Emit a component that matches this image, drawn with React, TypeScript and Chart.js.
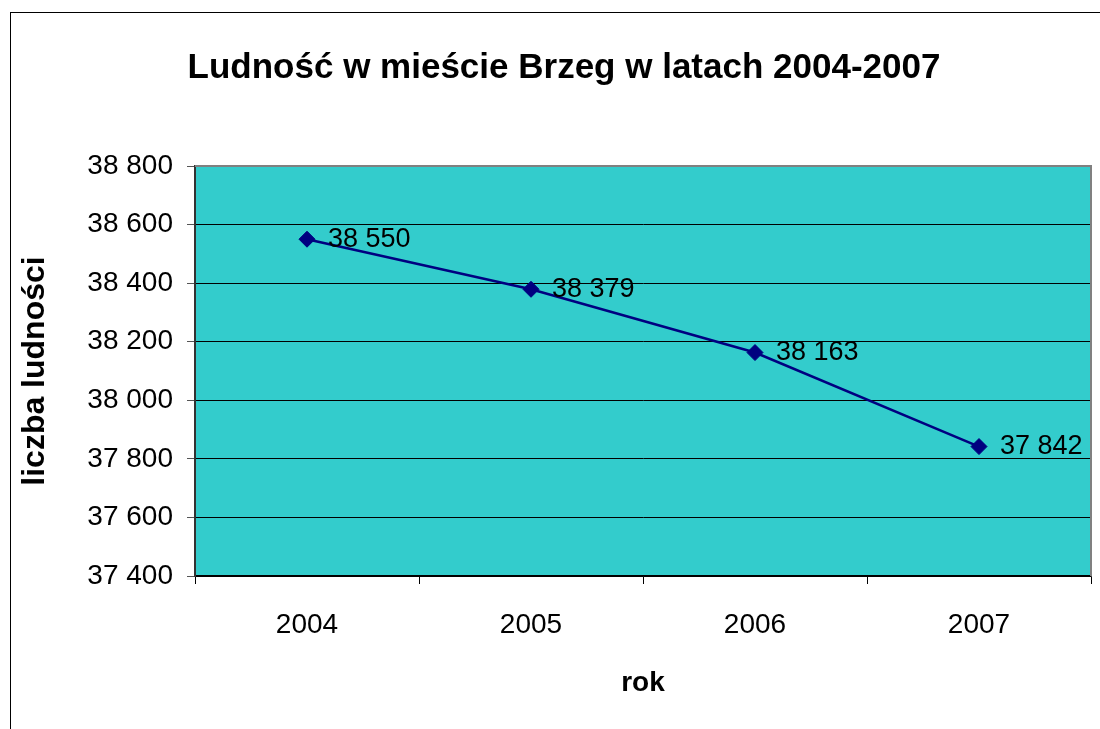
import { useEffect, useRef } from "react";
import { Chart, registerables } from "chart.js";

Chart.register(...registerables);

const YEARS = ["2004", "2005", "2006", "2007"];
const POPULATION = [38550, 38379, 38163, 37842];
const Y_MIN = 37400;
const Y_MAX = 38800;
const Y_STEP = 200;
const TITLE = "Ludność w mieście Brzeg w latach 2004-2007";
const Y_TITLE = "liczba ludności";
const X_TITLE = "rok";

const FONT = "'Liberation Sans', Arial, Helvetica, sans-serif";

const fmt = (v: number) =>
  String(Math.round(v)).replace(/\B(?=(\d{3})+(?!\d))/g, " ");

const plotBackground = {
  id: "plotBackground",
  beforeDraw(chart: any) {
    const { ctx, chartArea: a } = chart;
    ctx.save();
    ctx.fillStyle = "#33CCCC";
    ctx.fillRect(a.left, a.top, a.right - a.left, a.bottom - a.top);
    ctx.restore();
  },
};

const plotBorder = {
  id: "plotBorder",
  beforeDatasetsDraw(chart: any) {
    const { ctx, chartArea: a } = chart;
    ctx.save();
    ctx.strokeStyle = "#808080";
    ctx.lineWidth = 2;
    ctx.beginPath();
    ctx.moveTo(a.left, a.top);
    ctx.lineTo(a.right, a.top);
    ctx.lineTo(a.right, a.bottom);
    ctx.stroke();
    ctx.restore();
  },
};

const valueLabels = {
  id: "valueLabels",
  afterDatasetsDraw(chart: any) {
    const { ctx } = chart;
    const meta = chart.getDatasetMeta(0);
    const data = chart.data.datasets[0].data as number[];
    ctx.save();
    ctx.font = `27px ${FONT}`;
    ctx.fillStyle = "#000";
    ctx.textAlign = "left";
    ctx.textBaseline = "middle";
    meta.data.forEach((pt: any, i: number) => {
      ctx.fillText(fmt(data[i]), pt.x + 21, pt.y);
    });
    ctx.restore();
  },
};

const mainTitle = {
  id: "mainTitle",
  afterDraw(chart: any) {
    const { ctx } = chart;
    ctx.save();
    ctx.font = `bold 35px ${FONT}`;
    ctx.fillStyle = "#000";
    ctx.textAlign = "center";
    ctx.textBaseline = "alphabetic";
    ctx.fillText(TITLE, 564, 78);
    ctx.restore();
  },
};

export default function App() {
  const ref = useRef<HTMLCanvasElement | null>(null);

  useEffect(() => {
    if (!ref.current) return;
    const chart = new Chart(ref.current, {
      type: "line",
      data: {
        labels: YEARS,
        datasets: [
          {
            data: POPULATION,
            borderColor: "#000080",
            backgroundColor: "#000080",
            borderWidth: 2.5,
            pointStyle: "rectRot",
            pointRadius: 8,
            pointBorderWidth: 1,
            pointBackgroundColor: "#000080",
            pointBorderColor: "#000080",
            tension: 0,
            fill: false,
          },
        ],
      },
      options: {
        responsive: false,
        animation: false,
        devicePixelRatio: 1,
        layout: { padding: { top: 166, right: 6, left: 0, bottom: 0 } },
        plugins: {
          legend: { display: false },
          tooltip: { enabled: false },
          title: { display: false },
        },
        scales: {
          x: {
            type: "category",
            offset: true,
            afterFit: (s: any) => {
              s.height = 153;
            },
            grid: {
              display: true,
              drawOnChartArea: false,
              drawTicks: true,
              tickLength: 8,
              offset: true,
              color: "#000",
            },
            border: { display: true, color: "#000", width: 1.5 },
            ticks: {
              color: "#000",
              font: { family: FONT, size: 28 },
              padding: 24,
            },
            title: {
              display: true,
              text: X_TITLE,
              color: "#000",
              font: { family: FONT, size: 28, weight: "bold" },
              padding: { top: 0, bottom: 29 },
            },
          },
          y: {
            min: Y_MIN,
            max: Y_MAX,
            afterFit: (s: any) => {
              s.width = 195;
            },
            grid: {
              color: "#000",
              lineWidth: 1,
              drawTicks: true,
              tickLength: 8,
              tickColor: "#555",
            },
            border: { display: true, color: "#333", width: 2 },
            ticks: {
              stepSize: Y_STEP,
              color: "#000",
              font: { family: FONT, size: 28 },
              padding: 14,
              callback: (v: any) => fmt(Number(v)),
            },
            title: {
              display: true,
              text: Y_TITLE,
              color: "#000",
              font: { family: FONT, size: 32, weight: "bold" },
              padding: { top: 16, bottom: 0 },
            },
          },
        },
      },
      plugins: [plotBackground, plotBorder, valueLabels, mainTitle],
    } as any);
    return () => chart.destroy();
  }, []);

  return (
    <div style={{ position: "absolute", left: 0, top: 0, width: 1100, height: 729, background: "#fff" }}>
      <div
        style={{
          position: "absolute",
          left: 10,
          top: 12,
          width: 1089,
          height: 716,
          borderLeft: "1px solid #000",
          borderTop: "1px solid #000",
        }}
      />
      <canvas
        ref={ref}
        width={1100}
        height={729}
        style={{ position: "absolute", left: 0, top: 0, display: "block" }}
      />
    </div>
  );
}
